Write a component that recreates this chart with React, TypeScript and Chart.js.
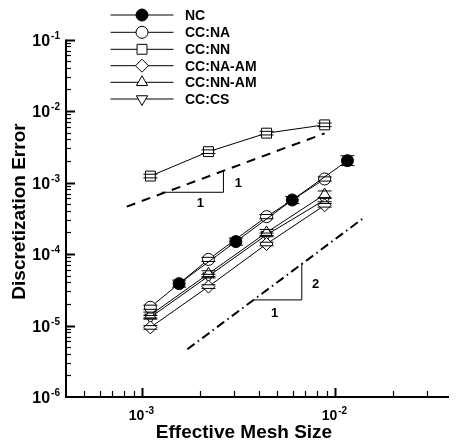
import React, { useEffect, useRef } from 'react';
import { Chart, registerables } from 'chart.js';

Chart.register(...registerables);

// ---------- data ----------
const ccMesh = [1.1e-3, 2.2e-3, 4.4e-3, 8.8e-3];
const ncMesh = [1.55e-3, 3.05e-3, 5.98e-3, 1.155e-2];

const ncError = [3.85e-5, 1.49e-4, 5.69e-4, 2.02e-3];
const naError = [1.8e-5, 8.4e-5, 3.33e-4, 1.12e-3];
const nnError = [1.23e-3, 2.7e-3, 4.9e-3, 6.4e-3];
const naAmError = [9.4e-6, 3.5e-5, 1.38e-4, 4.8e-4];
const nnAmError = [1.4e-5, 5.3e-5, 2.0e-4, 6.8e-4];
const csError = [1.3e-5, 4.9e-5, 1.85e-4, 5.7e-4];

// relative uncertainty of each point (error bar half-height)
const ncSpread = [0.12, 0.12, 0.12, 0.17];
const naSpread = [0.07, 0.07, 0.07, 0.07];
const nnSpread = [0.06, 0.06, 0.06, 0.06];
const naAmSpread = [0.06, 0.06, 0.06, 0.06];
const nnAmSpread = [0.1, 0.1, 0.1, 0.12];
const csSpread = [0.06, 0.06, 0.06, 0.06];

const seriesNames = ['NC', 'CC:NA', 'CC:NN', 'CC:NA-AM', 'CC:NN-AM', 'CC:CS'];

// reference slopes
const slope1Mesh = [8.3e-4, 8.8e-3];
const slope1Error = [4.6e-4, 4.87e-3];
const slope2Mesh = [1.71e-3, 1.43e-2];
const slope2Error = [4.65e-6, 3.33e-4];
const tri1Mesh = [1.253e-3, 2.63e-3, 2.63e-3];
const tri1Error = [7.3e-4, 7.3e-4, 1.42e-3];
const tri2Mesh = [3.73e-3, 6.7e-3, 6.7e-3];
const tri2Error = [2.28e-5, 2.28e-5, 7.4e-5];
const slopeLabelText = ['1', '1', '1', '2'];
const slopeLabelMesh = [2.0e-3, 3.14e-3, 4.84e-3, 7.9e-3];
const slopeLabelError = [5.1e-4, 9.85e-4, 1.48e-5, 3.8e-5];

// axes
const xMin = 4.02e-4;
const xMax = 3.88e-2;
const yMin = 1e-6;
const yMax = 1e-1;
const xLabelExponents = [-3, -2];
const yLabelExponents = [-1, -2, -3, -4, -5, -6];
const xTitle = 'Effective Mesh Size';
const yTitle = 'Discretization Error';

const FONT = '"Liberation Sans", Arial, Helvetica, sans-serif';

type Marker = 'circle' | 'rect' | 'rectRot' | 'triangle' | 'triangleDown';

const markerStyles: Marker[] = ['circle', 'circle', 'rect', 'rectRot', 'triangle', 'triangleDown'];
const markerRadius = [6, 6, 7, 6.5, 6.5, 6.5];
const markerFill = ['#000', '#fff', '#fff', '#fff', '#fff', '#fff'];

function pts(xs: number[], ys: number[]) {
  return xs.map((x, i) => ({ x, y: ys[i] }));
}

function drawMarker(ctx: CanvasRenderingContext2D, m: Marker, x: number, y: number, r: number, fill: string) {
  ctx.beginPath();
  if (m === 'circle') {
    ctx.arc(x, y, r, 0, Math.PI * 2);
  } else if (m === 'rect') {
    const s = r * Math.SQRT1_2;
    ctx.rect(x - s, y - s, 2 * s, 2 * s);
  } else if (m === 'rectRot') {
    ctx.moveTo(x, y - r);
    ctx.lineTo(x + r, y);
    ctx.lineTo(x, y + r);
    ctx.lineTo(x - r, y);
    ctx.closePath();
  } else if (m === 'triangle') {
    ctx.moveTo(x, y - r);
    ctx.lineTo(x + 0.866 * r, y + 0.5 * r);
    ctx.lineTo(x - 0.866 * r, y + 0.5 * r);
    ctx.closePath();
  } else {
    ctx.moveTo(x, y + r);
    ctx.lineTo(x + 0.866 * r, y - 0.5 * r);
    ctx.lineTo(x - 0.866 * r, y - 0.5 * r);
    ctx.closePath();
  }
  ctx.fillStyle = fill;
  ctx.fill();
  ctx.lineWidth = 1;
  ctx.strokeStyle = '#000';
  ctx.stroke();
}

function drawPow(ctx: CanvasRenderingContext2D, exp: number, x: number, y: number, align: 'right' | 'center', base: number, sup: number) {
  ctx.save();
  ctx.fillStyle = '#000';
  ctx.textBaseline = 'alphabetic';
  ctx.textAlign = 'left';
  ctx.font = `bold ${base}px ${FONT}`;
  const w1 = ctx.measureText('10').width;
  ctx.font = `bold ${sup}px ${FONT}`;
  const supText = String(exp);
  const w2 = ctx.measureText(supText).width;
  const total = w1 + w2 + 1;
  const left = align === 'right' ? x - total : x - total / 2;
  ctx.font = `bold ${base}px ${FONT}`;
  ctx.fillText('10', left, y);
  ctx.font = `bold ${sup}px ${FONT}`;
  ctx.fillText(supText, left + w1 + 1, y - base * 0.42);
  ctx.restore();
}

const spreads = [ncSpread, naSpread, nnSpread, naAmSpread, nnAmSpread, csSpread];

const errorBarPlugin = {
  id: 'errorBars',
  afterDatasetsDraw(chart: any) {
    const ctx: CanvasRenderingContext2D = chart.ctx;
    const xs = chart.scales.x;
    const ys = chart.scales.y;
    ctx.save();
    ctx.strokeStyle = '#000';
    ctx.lineWidth = 1;
    for (let d = 0; d < spreads.length; d++) {
      const ds = chart.data.datasets[d];
      ds.data.forEach((p: any, i: number) => {
        const px = xs.getPixelForValue(p.x);
        const hi = ys.getPixelForValue(p.y * (1 + spreads[d][i]));
        const lo = ys.getPixelForValue(p.y / (1 + spreads[d][i]));
        ctx.beginPath();
        ctx.moveTo(px - 7, hi);
        ctx.lineTo(px + 7, hi);
        ctx.moveTo(px - 7, lo);
        ctx.lineTo(px + 7, lo);
        ctx.stroke();
      });
    }
    ctx.restore();
  },
};

const decorPlugin = {
  id: 'decor',
  afterDraw(chart: any) {
    const ctx: CanvasRenderingContext2D = chart.ctx;
    const xs = chart.scales.x;
    const ys = chart.scales.y;
    const area = chart.chartArea;
    ctx.save();
    ctx.strokeStyle = '#000';
    ctx.fillStyle = '#000';

    // axis lines
    ctx.lineWidth = 2;
    ctx.beginPath();
    ctx.moveTo(area.left, area.top);
    ctx.lineTo(area.left, area.bottom);
    ctx.lineTo(area.right, area.bottom);
    ctx.stroke();

    // x ticks
    for (let e = -4; e <= -2; e++) {
      for (let m = 1; m <= 9; m++) {
        const v = m * Math.pow(10, e);
        if (v < xMin || v > xMax) continue;
        const px = Math.round(xs.getPixelForValue(v)) + 0.5;
        if (px < area.left + 2) continue;
        const len = m === 1 ? 9 : 6;
        ctx.lineWidth = m === 1 ? 2 : 1.2;
        ctx.beginPath();
        ctx.moveTo(px, area.bottom);
        ctx.lineTo(px, area.bottom - len);
        ctx.stroke();
      }
    }
    // y ticks
    for (let e = -6; e <= -1; e++) {
      for (let m = 1; m <= 9; m++) {
        const v = m * Math.pow(10, e);
        if (v < yMin || v > yMax * 1.0001) continue;
        const py = Math.round(ys.getPixelForValue(v)) + 0.5;
        if (py > area.bottom - 2) continue;
        const len = m === 1 ? 9 : 5;
        ctx.lineWidth = m === 1 ? 2 : 1.2;
        ctx.beginPath();
        ctx.moveTo(area.left, py);
        ctx.lineTo(area.left + len, py);
        ctx.stroke();
      }
    }

    // tick labels
    xLabelExponents.forEach((e) => {
      const px = xs.getPixelForValue(Math.pow(10, e));
      drawPow(ctx, e, px - 1, area.bottom + 23, 'center', 14, 10);
    });
    yLabelExponents.forEach((e) => {
      const py = ys.getPixelForValue(Math.pow(10, e));
      drawPow(ctx, e, area.left - 6, py + 6, 'right', 16, 10);
    });

    // axis titles
    ctx.font = `bold 19px ${FONT}`;
    ctx.textAlign = 'center';
    ctx.textBaseline = 'alphabetic';
    ctx.fillText(xTitle, 244, 438);
    ctx.save();
    ctx.translate(25, 211.5);
    ctx.rotate(-Math.PI / 2);
    ctx.fillText(yTitle, 0, 0);
    ctx.restore();

    // slope labels
    ctx.font = `bold 13px ${FONT}`;
    ctx.textAlign = 'center';
    ctx.textBaseline = 'middle';
    slopeLabelText.forEach((t, i) => {
      ctx.fillText(t, xs.getPixelForValue(slopeLabelMesh[i]), ys.getPixelForValue(slopeLabelError[i]));
    });

    // legend
    const rows = [15, 32.3, 49.3, 65.7, 82.3, 99];
    seriesNames.forEach((name, i) => {
      const y = rows[i];
      ctx.lineWidth = 1;
      ctx.strokeStyle = '#000';
      ctx.beginPath();
      ctx.moveTo(110.5, y);
      ctx.lineTo(173.5, y);
      ctx.stroke();
      drawMarker(ctx, markerStyles[i], 142, y, markerRadius[i], markerFill[i]);
      ctx.fillStyle = '#000';
      ctx.font = `bold 14px ${FONT}`;
      ctx.textAlign = 'left';
      ctx.textBaseline = 'middle';
      ctx.fillText(name, 185, y + 1);
    });
    ctx.restore();
  },
};

export default function App() {
  const canvasRef = useRef<HTMLCanvasElement | null>(null);

  useEffect(() => {
    document.body.style.margin = '0';
    const canvas = canvasRef.current;
    if (!canvas) return;

    const seriesValues = [ncError, naError, nnError, naAmError, nnAmError, csError];
    const seriesMesh = [ncMesh, ccMesh, ccMesh, ccMesh, ccMesh, ccMesh];

    const dataSets: any[] = seriesNames.map((name, i) => ({
      label: name,
      data: pts(seriesMesh[i], seriesValues[i]),
      borderColor: '#000',
      borderWidth: 1,
      backgroundColor: markerFill[i],
      pointBackgroundColor: markerFill[i],
      pointBorderColor: '#000',
      pointBorderWidth: 1,
      pointStyle: markerStyles[i] === 'triangleDown' ? 'triangle' : markerStyles[i],
      pointRotation: markerStyles[i] === 'triangleDown' ? 180 : 0,
      pointRadius: markerRadius[i],
      pointHoverRadius: markerRadius[i],
      fill: false,
      tension: 0,
    }));

    const refLine = (xs: number[], ys: number[], width: number, dash: number[]) => ({
      label: '',
      data: pts(xs, ys),
      borderColor: '#000',
      borderWidth: width,
      borderDash: dash,
      pointRadius: 0,
      fill: false,
      tension: 0,
    });

    dataSets.push(refLine(slope1Mesh, slope1Error, 2, [9, 7]));
    dataSets.push(refLine(slope2Mesh, slope2Error, 2, [9, 4, 1.5, 4]));
    dataSets.push(refLine(tri1Mesh, tri1Error, 1, []));
    dataSets.push(refLine(tri2Mesh, tri2Error, 1, []));

    const chart = new Chart(canvas, {
      type: 'line',
      data: { datasets: dataSets },
      options: {
        animation: false,
        responsive: false,
        devicePixelRatio: 1,
        layout: { padding: { left: 66, top: 39.5, right: 0, bottom: 46 } },
        plugins: { legend: { display: false }, tooltip: { enabled: false } },
        events: [],
        scales: {
          x: { type: 'logarithmic', min: xMin, max: xMax, display: false },
          y: { type: 'logarithmic', min: yMin, max: yMax, display: false },
        },
      } as any,
      plugins: [errorBarPlugin, decorPlugin],
    });

    return () => chart.destroy();
  }, []);

  return (
    <canvas
      ref={canvasRef}
      width={457}
      height={443}
      style={{ display: 'block', width: 457, height: 443, background: '#fff' }}
    />
  );
}
